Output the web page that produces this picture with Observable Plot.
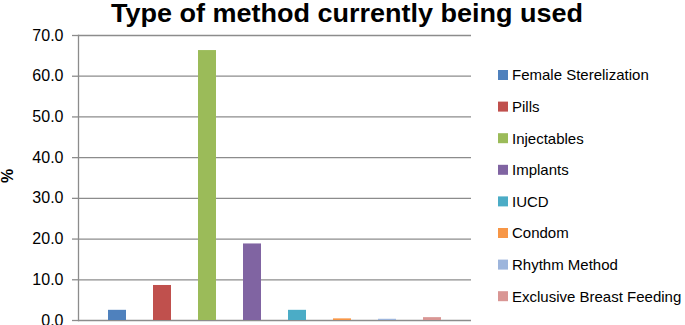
<!DOCTYPE html>
<html><head><meta charset="utf-8">
<script src="https://cdn.jsdelivr.net/npm/d3@7"></script>
<script src="https://cdn.jsdelivr.net/npm/@observablehq/plot@0.6"></script>
<style>
body{margin:0;background:#fff;}
#chart{width:685px;height:325px;overflow:hidden;}
</style>
</head><body>
<div id="chart"></div>
<script>
const title = "Type of method currently being used";
const yLabel = "%";
const methods = ["Female Sterelization","Pills","Injectables","Implants","IUCD","Condom","Rhythm Method","Exclusive Breast Feeding"];
const percents = [2.5, 8.6, 66.3, 18.8, 2.5, 0.4, 0.3, 0.7];
const colors = ["#4F81BD","#C0504D","#9BBB59","#8064A2","#4BACC6","#F79646","#9DB5DC","#D99694"];
const yTicks = [0,10,20,30,40,50,60,70];

const data = methods.map((m,i)=>({method:m, pct:percents[i]}));
const fmt = d3.format(".1f");
const FONT = "'Liberation Sans', Arial, sans-serif";

const chart = Plot.plot({
  width:685, height:325,
  marginLeft:78, marginRight:214, marginTop:35, marginBottom:5,
  style:{fontFamily:FONT, fontSize:"16px", background:"#fff", color:"#000", overflow:"visible"},
  x:{domain:methods, padding:0.59, axis:null},
  y:{domain:[0,70], label:null},
  color:{domain:methods, range:colors},
  marks:[
    Plot.gridY(yTicks,{stroke:"#8c8c8c", strokeOpacity:1, strokeWidth:1.3}),
    Plot.axisY(yTicks,{tickFormat:fmt, tickSize:6, tickPadding:9, stroke:"#8c8c8c", strokeWidth:1.3, fill:"#000", fontSize:16, label:null}),
    Plot.frame({anchor:"left", stroke:"#8c8c8c", strokeWidth:1.3}),
    Plot.barY(data,{x:"method", y:"pct", fill:"method"})
  ]
});
document.getElementById("chart").appendChild(chart);

const svg = d3.select(chart);
svg.append("text")
  .attr("x", 111).attr("y", 22)
  .attr("text-anchor","start")
  .attr("textLength", 472).attr("lengthAdjust","spacingAndGlyphs")
  .style("font-family", FONT).style("font-weight","bold").style("font-size","25px")
  .attr("fill","#000")
  .text(title);

svg.append("text")
  .attr("transform","translate(13,176) rotate(-90)")
  .attr("text-anchor","middle")
  .style("font-family", FONT).style("font-weight","bold").style("font-size","16px")
  .attr("fill","#000")
  .text(yLabel);

const leg = svg.append("g").attr("text-anchor","start");
methods.forEach((m,i)=>{
  const cy = 75 + i*31.6;
  const g = leg.append("g").attr("transform",`translate(498,${cy})`);
  g.append("rect").attr("x",0).attr("y",-5).attr("width",10).attr("height",10).attr("fill",colors[i]);
  g.append("text").attr("x",14).attr("y",0).attr("dy","0.36em")
    .attr("text-anchor","start")
    .style("font-family", FONT).style("font-size","15px").attr("fill","#000").text(m);
});
</script>
</body></html>
